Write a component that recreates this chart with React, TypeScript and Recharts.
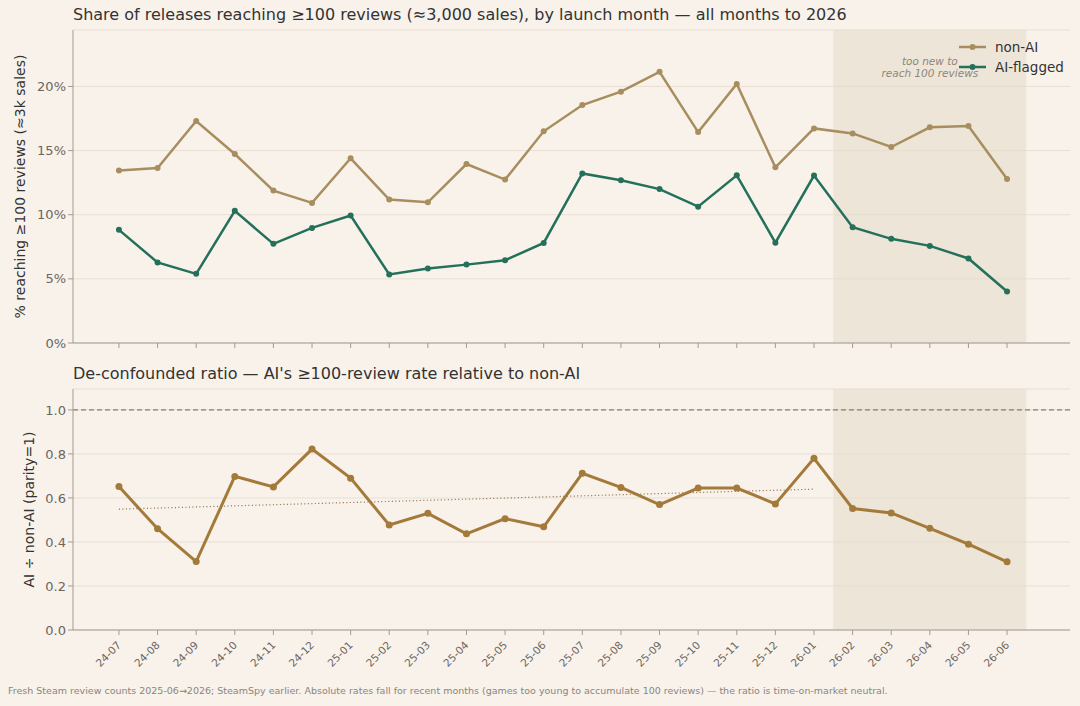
import React from 'react';
import {
  LineChart,
  Line,
  XAxis,
  YAxis,
  CartesianGrid,
  ReferenceArea,
  ReferenceLine,
  Legend,
} from 'recharts';

const months = [
  '24-07', '24-08', '24-09', '24-10', '24-11', '24-12',
  '25-01', '25-02', '25-03', '25-04', '25-05', '25-06',
  '25-07', '25-08', '25-09', '25-10', '25-11', '25-12',
  '26-01', '26-02', '26-03', '26-04', '26-05', '26-06',
];
const nonAiPct = [
  13.44, 13.64, 17.3, 14.73, 11.88, 10.92, 14.4, 11.18, 10.97, 13.95, 12.74, 16.5,
  18.55, 19.59, 21.14, 16.44, 20.2, 13.7, 16.73, 16.34, 15.28, 16.81, 16.91, 12.79,
];
const aiPct = [
  8.82, 6.28, 5.39, 10.3, 7.73, 8.97, 9.94, 5.34, 5.8, 6.11, 6.45, 7.8,
  13.22, 12.68, 12.0, 10.63, 13.07, 7.82, 13.05, 9.03, 8.12, 7.57, 6.59, 4.02,
];
const ratio = [
  0.652, 0.46, 0.311, 0.698, 0.65, 0.822, 0.69, 0.477, 0.53, 0.437, 0.506, 0.469,
  0.712, 0.648, 0.57, 0.645, 0.645, 0.573, 0.78, 0.552, 0.532, 0.462, 0.39, 0.31,
];
const trendEnds = [
  { x: 0, y: 0.549 },
  { x: 18, y: 0.64 },
];
const pctTicks = [0, 5, 10, 15, 20];
const ratioTicks = [0, 0.2, 0.4, 0.6, 0.8, 1.0];

const rows = months.map((m, i) => ({
  i,
  m,
  nonAi: nonAiPct[i],
  ai: aiPct[i],
  ratio: ratio[i],
}));
const idx = months.map((_, i) => i);

const FONT = '"DejaVu Sans", Verdana, sans-serif';
const BG = '#f8f2eb';
const SHADE = '#e6dccb';
const AXIS = '#a39b92';
const GRID = '#e9dfd4';
const TICK = '#6b655f';
const C_NON = '#a88e5e';
const C_AI = '#25705b';
const C_RATIO = '#a47a3a';

const X_DOMAIN: [number, number] = [-1.19, 24.63];

const NoTick = () => <g />;

const MonthTick = (props: any) => {
  const { x, y, payload } = props;
  return (
    <g transform={`translate(${x},${y + 6})`}>
      <text
        textAnchor="end"
        fontSize={10.5}
        fill={TICK}
        fontFamily={FONT}
        transform="rotate(-45)"
        dy={4}
      >
        {months[payload.value]}
      </text>
    </g>
  );
};

const ShadeNote = (props: any) => {
  const { viewBox } = props;
  const cx = viewBox.x + viewBox.width / 2;
  return (
    <text
      textAnchor="middle"
      fontSize={10.5}
      fontStyle="italic"
      fill="#8d857b"
      fontFamily={FONT}
    >
      <tspan x={cx} y={65}>too new to</tspan>
      <tspan x={cx} y={77}>reach 100 reviews</tspan>
    </text>
  );
};

const LegendBox = () => (
  <div style={{ fontFamily: FONT, fontSize: 13.5, color: '#333' }}>
    {[
      { name: 'non-AI', color: C_NON },
      { name: 'AI-flagged', color: C_AI },
    ].map((s) => (
      <div key={s.name} style={{ display: 'flex', alignItems: 'center', height: 20 }}>
        <svg width={30} height={10} style={{ marginRight: 7 }}>
          <line x1={1} y1={5} x2={28} y2={5} stroke={s.color} strokeWidth={2.5} />
          <circle cx={14.5} cy={5} r={3} fill={s.color} />
        </svg>
        <span>{s.name}</span>
      </div>
    ))}
  </div>
);

const titleStyle: React.CSSProperties = {
  position: 'absolute',
  left: 73,
  fontFamily: FONT,
  fontSize: 16,
  color: '#333',
  whiteSpace: 'nowrap',
};

export default function App() {
  return (
    <div
      style={{
        position: 'fixed',
        left: 0,
        top: 0,
        width: 1080,
        height: 706,
        background: BG,
        overflow: 'hidden',
      }}
    >
      <div style={{ ...titleStyle, top: 5 }}>
        Share of releases reaching ≥100 reviews (≈3,000 sales), by launch month — all months to 2026
      </div>
      <div style={{ position: 'absolute', left: 0, top: 0 }}>
        <LineChart
          width={1080}
          height={350}
          data={rows}
          margin={{ top: 30, right: 10, bottom: 0, left: 0 }}
        >
          <CartesianGrid vertical={false} stroke={GRID} strokeWidth={1} />
          <ReferenceArea
            x1={18.5}
            x2={23.5}
            y1={0}
            y2={24.4}
            fill={SHADE}
            fillOpacity={0.6}
            stroke="none"
            label={<ShadeNote />}
          />
          <XAxis
            type="number"
            dataKey="i"
            domain={X_DOMAIN}
            ticks={idx}
            interval={0}
            allowDataOverflow
            height={7}
            tick={NoTick}
            tickSize={5}
            stroke={AXIS}
          />
          <YAxis
            type="number"
            domain={[0, 24.4]}
            ticks={pctTicks}
            interval={0}
            allowDataOverflow
            width={73}
            tickFormatter={(v) => `${v}%`}
            tick={{ fill: TICK, fontSize: 13, fontFamily: FONT }}
            tickSize={5}
            stroke={AXIS}
            label={{
              value: '% reaching ≥100 reviews (≈3k sales)',
              angle: -90,
              position: 'insideLeft',
              dx: 15,
              dy: 0,
              style: { fill: '#333', fontSize: 14, fontFamily: FONT, textAnchor: 'middle' },
            }}
          />
          <Legend
            layout="horizontal"
            verticalAlign="middle"
            align="center"
            content={<LegendBox />}
            wrapperStyle={{ top: 37, left: 958, width: 120 }}
          />
          <Line
            dataKey="nonAi"
            stroke={C_NON}
            strokeWidth={2.5}
            dot={{ r: 3, fill: C_NON, stroke: C_NON, strokeWidth: 0 }}
            isAnimationActive={false}
          />
          <Line
            dataKey="ai"
            stroke={C_AI}
            strokeWidth={2.5}
            dot={{ r: 3, fill: C_AI, stroke: C_AI, strokeWidth: 0 }}
            isAnimationActive={false}
          />
        </LineChart>
      </div>

      <div style={{ ...titleStyle, top: 364 }}>
        De-confounded ratio — AI's ≥100-review rate relative to non-AI
      </div>
      <div style={{ position: 'absolute', left: 0, top: 360 }}>
        <LineChart
          width={1080}
          height={346}
          data={rows}
          margin={{ top: 29, right: 10, bottom: 16, left: 0 }}
        >
          <CartesianGrid vertical={false} stroke={GRID} strokeWidth={1} />
          <ReferenceArea
            x1={18.5}
            x2={23.5}
            y1={0}
            y2={1.095}
            fill={SHADE}
            fillOpacity={0.6}
            stroke="none"
          />
          <XAxis
            type="number"
            dataKey="i"
            domain={X_DOMAIN}
            ticks={idx}
            interval={0}
            allowDataOverflow
            height={60}
            tick={<MonthTick />}
            tickSize={5}
            stroke={AXIS}
          />
          <YAxis
            type="number"
            domain={[0, 1.095]}
            ticks={ratioTicks}
            interval={0}
            allowDataOverflow
            width={73}
            tickFormatter={(v) => v.toFixed(1)}
            tick={{ fill: TICK, fontSize: 13, fontFamily: FONT }}
            tickSize={5}
            stroke={AXIS}
            label={{
              value: 'AI ÷ non-AI (parity=1)',
              angle: -90,
              position: 'insideLeft',
              dx: 24,
              style: { fill: '#333', fontSize: 14, fontFamily: FONT, textAnchor: 'middle' },
            }}
          />
          <ReferenceLine y={1} stroke="#8c7c6c" strokeDasharray="5 3" strokeWidth={1.1} />
          <ReferenceLine
            segment={trendEnds}
            stroke="#8a6a42"
            strokeDasharray="1 2.5"
            strokeWidth={1.2}
          />
          <Line
            dataKey="ratio"
            stroke={C_RATIO}
            strokeWidth={3}
            dot={{ r: 3.5, fill: C_RATIO, stroke: C_RATIO, strokeWidth: 0 }}
            isAnimationActive={false}
          />
        </LineChart>
      </div>

      <div
        style={{
          position: 'absolute',
          left: 8,
          top: 685,
          fontFamily: FONT,
          fontSize: 9.5,
          color: '#8a8580',
          whiteSpace: 'nowrap',
        }}
      >
        Fresh Steam review counts 2025-06→2026; SteamSpy earlier. Absolute rates fall for recent months (games too young to accumulate 100 reviews) — the ratio is time-on-market neutral.
      </div>
    </div>
  );
}
